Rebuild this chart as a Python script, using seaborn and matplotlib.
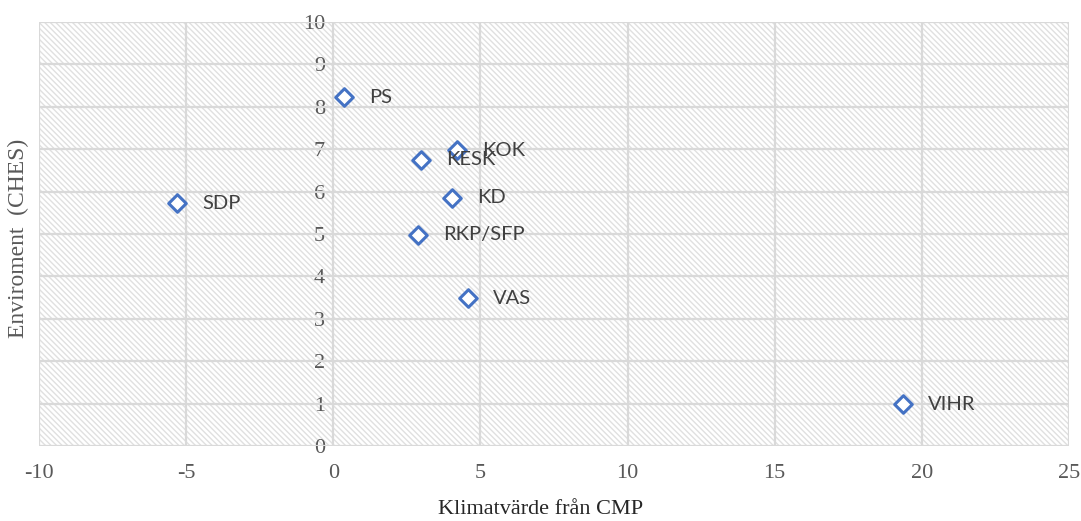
import matplotlib
matplotlib.use("Agg")
import matplotlib.pyplot as plt
import seaborn as sns
import pandas as pd
from matplotlib.patches import Rectangle

# data
parties = ["PS", "KOK", "KESK", "KD", "SDP", "RKP/SFP", "VAS", "VIHR"]
klimat = [0.37, 4.21, 2.99, 4.04, -5.3, 2.89, 4.59, 19.37]
enviro = [8.23, 6.98, 6.75, 5.85, 5.73, 4.98, 3.49, 0.99]
x_ticks = [-10, -5, 0, 5, 10, 15, 20, 25]
y_ticks = list(range(0, 11))

df = pd.DataFrame({"party": parties, "x": klimat, "y": enviro})

sns.set_style("white")
plt.rcParams["font.family"] = ["Liberation Serif", "DejaVu Serif"]
plt.rcParams["hatch.linewidth"] = 1.0

fig = plt.figure(figsize=(10.81, 5.21), dpi=100)
ax = fig.add_axes([39 / 1081, 1 - 446 / 521, (1069 - 39) / 1081, (446 - 22) / 521])

grid_c = "#d9d9d9"
# hatched plot area
ax.add_patch(Rectangle((0, 0), 1, 1, transform=ax.transAxes, facecolor="white",
                       edgecolor="#e0e0e0", hatch="\\\\\\\\\\\\", linewidth=0, zorder=0))

for xv in x_ticks:
    ax.axvline(xv, color=grid_c, lw=1.6, zorder=1)
for yv in y_ticks:
    ax.axhline(yv, color=grid_c, lw=1.6, zorder=1)

sns.scatterplot(data=df, x="x", y="y", ax=ax, marker="D", s=80,
                facecolor="white", edgecolor="#4472C4", linewidth=2.2, zorder=3)

for _, r in df.iterrows():
    ax.annotate(r["party"], (r["x"], r["y"]), xytext=(18, 0), textcoords="offset points",
                va="center", ha="left", fontsize=14.5, color="#404040",
                family=["Lato", "DejaVu Sans"], zorder=4)

ax.set_xlim(-10, 25)
ax.set_ylim(0, 10)
ax.set_xticks(x_ticks)
ax.set_yticks(y_ticks)
ax.set_xticklabels([str(v) for v in x_ticks])
ax.set_yticklabels([str(v) for v in y_ticks])

for s in ["top", "right", "bottom"]:
    ax.spines[s].set_visible(False)
ax.spines["left"].set_position(("data", 0))
ax.spines["left"].set_visible(False)

ax.tick_params(axis="both", length=0, labelsize=16, labelcolor="#595959")
ax.tick_params(axis="x", pad=13)
ax.tick_params(axis="y", pad=6)

ax.set_xlabel("")
ax.set_ylabel("")
fig.text(0.5, 1 - 510 / 521, "Klimatvärde från CMP", ha="center", va="center", fontsize=16, color="#262626")
fig.text(18 / 1081, 1 - 238 / 521, "Enviroment  (CHES)", ha="center", va="center", rotation=90,
         fontsize=17, color="#595959")

fig.savefig("out.png", dpi=100)
